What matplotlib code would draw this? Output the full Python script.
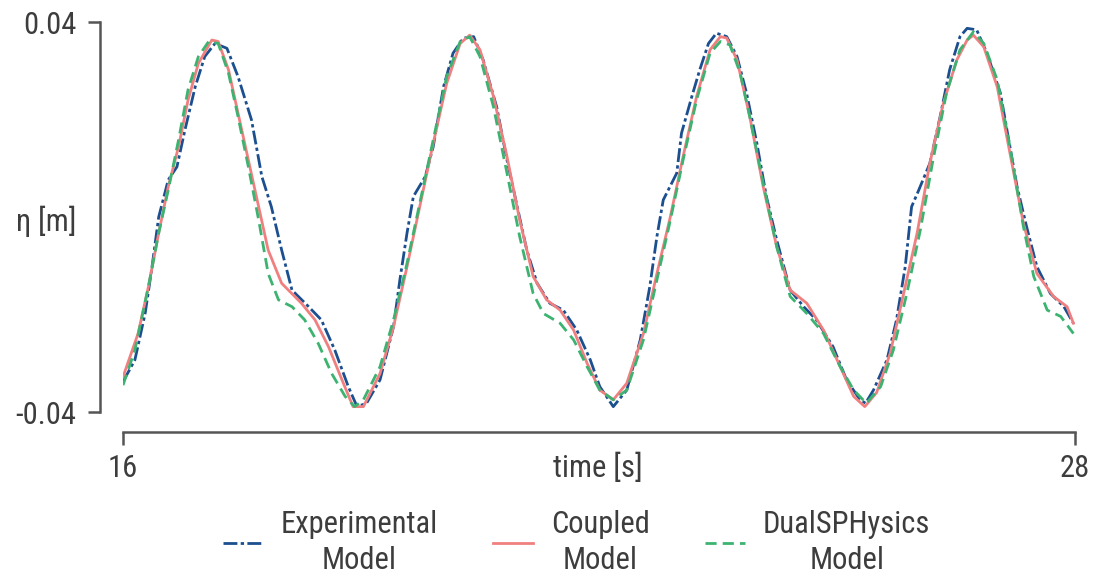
import matplotlib
matplotlib.use("Agg")
import matplotlib.pyplot as plt

plt.rcParams['font.family'] = ['Roboto Condensed', 'Liberation Sans', 'DejaVu Sans']
plt.rcParams['axes.unicode_minus'] = False

# digitised free-surface elevation
t_exp = [16.0, 16.15, 16.28, 16.36, 16.45, 16.57, 16.68, 16.78, 16.91, 17.03, 17.16, 17.31, 17.45, 17.62,
         17.75, 17.87, 18.0, 18.13, 18.34, 18.5, 18.67, 18.84, 18.95, 19.07, 19.24, 19.41, 19.49, 19.58,
         19.66, 19.81, 19.91, 20.04, 20.16, 20.29, 20.42, 20.54, 20.71, 20.84, 20.96, 21.09, 21.22, 21.38,
         21.55, 21.72, 21.89, 22.01, 22.18, 22.35, 22.52, 22.64, 22.73, 22.81, 22.98, 23.04, 23.17, 23.27,
         23.38, 23.48, 23.61, 23.74, 23.86, 23.99, 24.11, 24.24, 24.41, 24.58, 24.74, 24.95, 25.12, 25.29,
         25.36, 25.46, 25.63, 25.75, 25.86, 25.94, 26.03, 26.17, 26.3, 26.42, 26.55, 26.64, 26.76, 26.89,
         27.06, 27.18, 27.27, 27.39, 27.52, 27.69, 27.86, 27.98]
eta_exp = [-0.0338, -0.0293, -0.0197, -0.0109, 0.0, 0.0076, 0.0103, 0.0178, 0.0267, 0.0329, 0.0356, 0.0346,
           0.0288, 0.0199, 0.0083, 0.0021, -0.0068, -0.015, -0.0184, -0.0211, -0.0273, -0.0348, -0.0389,
           -0.0382, -0.0334, -0.0225, -0.0129, -0.0033, 0.0042, 0.0083, 0.0144, 0.0267, 0.0336, 0.0367,
           0.037, 0.0322, 0.0226, 0.0117, 0.0028, -0.0068, -0.0136, -0.0177, -0.0191, -0.0232, -0.0293,
           -0.0348, -0.0389, -0.0355, -0.0252, -0.0143, -0.004, 0.0035, 0.009, 0.0172, 0.0247, 0.0302,
           0.0356, 0.0377, 0.037, 0.0329, 0.0254, 0.0151, 0.0042, -0.0047, -0.015, -0.0184, -0.0211,
           -0.0266, -0.0334, -0.0375, -0.0382, -0.0355, -0.0293, -0.0211, -0.0102, 0.0021, 0.0055, 0.011,
           0.0206, 0.0302, 0.037, 0.0387, 0.0384, 0.0336, 0.0254, 0.0144, 0.0062, -0.002, -0.0102, -0.0157,
           -0.0184, -0.0218]

t_cpl = [16.0, 16.19, 16.32, 16.45, 16.57, 16.7, 16.82, 16.95, 17.12, 17.2, 17.33, 17.45, 17.58, 17.71,
         17.83, 18.0, 18.25, 18.42, 18.59, 18.76, 18.9, 19.03, 19.24, 19.41, 19.58, 19.74, 19.91, 20.08,
         20.25, 20.37, 20.5, 20.67, 20.84, 21.0, 21.17, 21.34, 21.51, 21.68, 21.85, 22.01, 22.18, 22.35,
         22.56, 22.73, 22.9, 23.06, 23.23, 23.4, 23.53, 23.61, 23.74, 23.9, 24.07, 24.24, 24.41, 24.62,
         24.83, 25.04, 25.21, 25.35, 25.5, 25.67, 25.84, 26.01, 26.17, 26.34, 26.51, 26.64, 26.72, 26.85,
         27.02, 27.18, 27.35, 27.52, 27.73, 27.9, 27.98]
eta_cpl = [-0.0328, -0.0239, -0.0143, -0.0033, 0.0062, 0.0144, 0.024, 0.0315, 0.0363, 0.036, 0.0302,
           0.0213, 0.0117, 0.0021, -0.0068, -0.0136, -0.0177, -0.0211, -0.0266, -0.0334, -0.0389, -0.0389,
           -0.0321, -0.0225, -0.0102, 0.0021, 0.0151, 0.0274, 0.0356, 0.0373, 0.0343, 0.0247, 0.0124,
           -0.0006, -0.0122, -0.017, -0.0191, -0.0232, -0.03, -0.0355, -0.0375, -0.0341, -0.0239, -0.0116,
           0.0001, 0.0124, 0.0247, 0.0343, 0.037, 0.0367, 0.0322, 0.0206, 0.0062, -0.0061, -0.015, -0.0177,
           -0.0232, -0.0307, -0.0368, -0.0389, -0.036, -0.028, -0.0157, -0.0033, 0.011, 0.0233, 0.0322,
           0.0363, 0.0373, 0.0349, 0.0267, 0.0131, -0.0013, -0.0116, -0.0163, -0.0184, -0.0218]

t_sph = [16.0, 16.15, 16.32, 16.45, 16.57, 16.7, 16.82, 16.95, 17.08, 17.2, 17.33, 17.45, 17.58, 17.71,
         17.83, 17.96, 18.13, 18.29, 18.46, 18.63, 18.8, 18.92, 19.03, 19.24, 19.41, 19.58, 19.74, 19.91,
         20.08, 20.25, 20.37, 20.5, 20.67, 20.84, 21.0, 21.17, 21.3, 21.51, 21.68, 21.85, 22.01, 22.18,
         22.35, 22.56, 22.73, 22.9, 23.06, 23.23, 23.4, 23.53, 23.65, 23.78, 23.9, 24.07, 24.24, 24.41,
         24.62, 24.83, 25.04, 25.21, 25.37, 25.55, 25.71, 25.88, 26.05, 26.21, 26.38, 26.55, 26.72, 26.85,
         27.02, 27.18, 27.35, 27.48, 27.65, 27.82, 27.98]
eta_sph = [-0.0345, -0.0273, -0.0143, -0.0033, 0.0055, 0.0158, 0.0261, 0.0329, 0.036, 0.0356, 0.0295,
           0.0206, 0.0103, -0.0006, -0.0116, -0.017, -0.0184, -0.0211, -0.0259, -0.0321, -0.0368, -0.0389,
           -0.0375, -0.0307, -0.0211, -0.0095, 0.0028, 0.0158, 0.0288, 0.036, 0.037, 0.0329, 0.0226,
           0.009, -0.004, -0.0157, -0.0198, -0.0218, -0.0252, -0.0307, -0.0355, -0.0375, -0.0355, -0.0252,
           -0.0129, -0.0006, 0.0117, 0.024, 0.0336, 0.036, 0.0353, 0.0295, 0.0206, 0.0069, -0.0061,
           -0.0163, -0.0198, -0.0239, -0.0307, -0.0355, -0.0382, -0.0348, -0.0273, -0.0157, -0.0027,
           0.0117, 0.0254, 0.0343, 0.038, 0.0356, 0.0281, 0.0144, -0.002, -0.0122, -0.0191, -0.0204, -0.0239]

labels = ["Experimental\nModel", "Coupled\nModel", "DualSPHysics\nModel"]
colors = ["#1b4f8f", "#f08080", "#3cb371"]

text_col = "#3d3d3d"
spine_col = "#555555"
fs = 22

fig = plt.figure(figsize=(10.95, 5.81), dpi=100)
ax = fig.add_axes([123 / 1095, 1 - 412 / 581, (1075 - 123) / 1095, (412 - 22) / 581])

ax.plot(t_exp, eta_exp, color=colors[0], lw=2.0, linestyle=(0, (5, 1.2, 1.2, 1.2)), label=labels[0])
ax.plot(t_cpl, eta_cpl, color=colors[1], lw=2.0, linestyle="-", label=labels[1])
ax.plot(t_sph, eta_sph, color=colors[2], lw=2.0, linestyle=(0, (4, 2.2)), label=labels[2])

ax.set_xlim(16, 28)
ax.set_ylim(-0.04, 0.04)
ax.set_xticks([16, 28])
ax.set_xticklabels(["16", "28"])
ax.set_yticks([-0.04, 0.04])
ax.set_yticklabels(["-0.04", "0.04"])

for s in ["top", "right"]:
    ax.spines[s].set_visible(False)
ax.spines["left"].set_position(("outward", 16.5))
ax.spines["bottom"].set_position(("outward", 14.5))
for s in ["left", "bottom"]:
    ax.spines[s].set_color(spine_col)
    ax.spines[s].set_linewidth(1.8)
ax.tick_params(axis="both", colors=spine_col, width=1.8, length=9, labelsize=fs, labelcolor=text_col)
ax.tick_params(axis="y", pad=8)
ax.tick_params(axis="x", pad=7)

ax.set_xlabel("time [s]", fontsize=fs, color=text_col)
ax.xaxis.set_label_coords(0.499, -0.105)
ax.set_ylabel("η [m]", fontsize=fs, color=text_col, rotation=0, va="center", ha="center")
ax.yaxis.set_label_coords(-0.081, 0.49)

leg = fig.legend(loc="center", bbox_to_anchor=(0.5265, 0.067), ncol=3, frameon=False,
                 fontsize=fs, handlelength=1.3, handletextpad=0.6, columnspacing=1.8,
                 labelcolor=text_col)
for txt in leg.get_texts():
    txt.set_multialignment("center")
    txt.set_linespacing(1.3)

fig.savefig("out.png", dpi=100)
